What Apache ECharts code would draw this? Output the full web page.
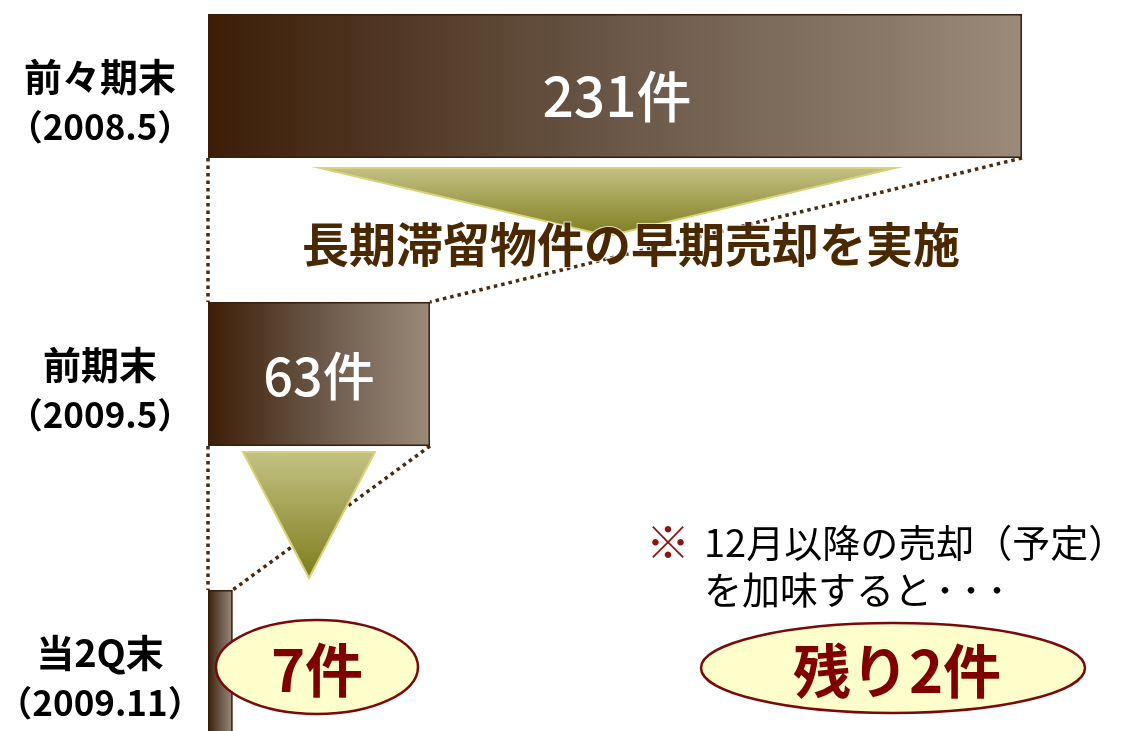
<!DOCTYPE html>
<html><head><meta charset="utf-8">
<script src="https://cdn.jsdelivr.net/npm/echarts@6/dist/echarts.min.js"></script>
<style>html,body{margin:0;padding:0;background:#fff}#c{width:1125px;height:731px}</style>
</head><body><div id="c"></div>
<script>
// ---- data ----
const periodNames = ['前々期末', '前期末', '当2Q末'];
const periodDates = ['（2008.5）', '（2009.5）', '（2009.11）'];
const counts = [231, 63, 7];
const barLabels = ['231件', '63件', ''];
const headline = '長期滞留物件の早期売却を実施';
const noteMark = '※';
const noteLine1 = '12月以降の売却（予定）';
const noteLine2 = 'を加味すると';
const noteDots = '・・・';
const currentLabel = '7件';
const remainLabel = '残り2件';

const FONT = '"Noto Sans CJK JP", "Noto Sans", sans-serif';
const chart = echarts.init(document.getElementById('c'), null, {renderer: 'canvas'});

const barGrad = new echarts.graphic.LinearGradient(0, 0, 1, 0, [
  {offset: 0, color: '#3c1e07'},
  {offset: 0.5, color: '#6a5747'},
  {offset: 1, color: '#9a8a7a'}
]);

chart.setOption({
  backgroundColor: '#ffffff',
  animation: false,
  grid: {left: 208, right: 103, top: -58, bottom: -75, containLabel: false, outerBoundsMode: 'none'},
  xAxis: {type: 'value', min: 0, max: 231, show: false},
  yAxis: {
    type: 'category', inverse: true, data: periodNames,
    axisLine: {show: false}, axisTick: {show: false}, splitLine: {show: false},
    axisLabel: {
      align: 'center', margin: 108, padding: [32, 0, 0, 0],
      formatter: (v, i) => '{a|' + v + '}\n{b|' + periodDates[i] + '}',
      rich: {
        a: {fontSize: 38, lineHeight: 50, fontWeight: 'bold', color: '#000', fontFamily: FONT},
        b: {fontSize: 35, lineHeight: 50, fontWeight: 'bold', color: '#000', fontFamily: FONT}
      }
    }
  },
  series: [{
    type: 'bar', barWidth: 144,
    data: counts.map((v, i) => ({
      value: v,
      label: {
        show: !!barLabels[i], position: 'inside', formatter: barLabels[i],
        color: '#ffffff', fontSize: i === 0 ? 55 : 52, fontWeight: 500, fontFamily: FONT,
        offset: i === 0 ? [2, 10] : [0, 2]
      }
    })),
    itemStyle: {color: barGrad, borderColor: '#3a1e0a', borderWidth: 1.5}
  }]
});

// ---- annotations derived from the axes ----
const half = 72;
const yc = i => chart.convertToPixel({yAxisIndex: 0}, periodNames[i]);
const xv = v => chart.convertToPixel({xAxisIndex: 0}, v);
const dotted = {stroke: '#4a2a10', lineWidth: 3.5, lineDash: [3.5, 4]};
function seg(x1, y1, x2, y2) {
  return {type: 'line', z: 1, shape: {x1, y1, x2, y2}, style: dotted, silent: true};
}
const g = [];
g.push(seg(xv(0), yc(0) + half, xv(0), yc(1) - half));
g.push(seg(xv(counts[0]), yc(0) + half, xv(counts[1]), yc(1) - half));
g.push(seg(xv(0), yc(1) + half, xv(0), yc(2) - half));
g.push(seg(xv(counts[1]), yc(1) + half, xv(counts[2]), yc(2) - half));

const triGrad = () => new echarts.graphic.LinearGradient(0, 0, 0, 1, [
  {offset: 0, color: '#c4c284'},
  {offset: 1, color: '#7e7c1c'}
]);
g.push({type: 'polygon', z: 2, shape: {points: [[320, 168], [895, 168], [608, 236]]},
  style: {fill: triGrad(), stroke: '#d8d27a', lineWidth: 2}});
g.push({type: 'polygon', z: 2, shape: {points: [[243, 452], [375, 452], [309, 578]]},
  style: {fill: triGrad(), stroke: '#d8d27a', lineWidth: 2}});

g.push({type: 'text', z: 3, style: {text: headline, x: 631, y: 244, font: 'bold 47px ' + FONT,
  fill: '#4a2800', align: 'center', verticalAlign: 'middle',
  stroke: 'rgba(255,255,255,0.7)', lineWidth: 2}});

g.push({type: 'text', z: 3, style: {text: noteMark, x: 668, y: 542, font: 'bold 44px ' + FONT,
  fill: '#8b1414', align: 'center', verticalAlign: 'middle'}});
g.push({type: 'text', z: 3, style: {text: noteLine1, x: 704, y: 543, font: '38px ' + FONT,
  fill: '#000', align: 'left', verticalAlign: 'middle'}});
g.push({type: 'text', z: 3, style: {
  text: '{a|' + noteLine2 + '}{d|' + noteDots + '}', x: 704, y: 590,
  align: 'left', verticalAlign: 'middle',
  rich: {
    a: {fontSize: 38, fontFamily: FONT, fill: '#000', color: '#000'},
    d: {fontSize: 26, fontFamily: FONT, fill: '#000', color: '#000', fontWeight: 'bold'}
  }}});

g.push({type: 'ellipse', z: 4, shape: {cx: 317, cy: 667, rx: 101, ry: 47},
  style: {fill: '#ffffcc', stroke: '#7a0a0a', lineWidth: 2.5}});
g.push({type: 'text', z: 5, style: {text: currentLabel, x: 317, y: 670, font: 'bold 58px ' + FONT,
  fill: '#800000', align: 'center', verticalAlign: 'middle'}});
g.push({type: 'ellipse', z: 4, shape: {cx: 893, cy: 668, rx: 192, ry: 45},
  style: {fill: '#ffffcc', stroke: '#7a0a0a', lineWidth: 2.5}});
g.push({type: 'text', z: 5, style: {text: remainLabel, x: 897, y: 671, font: 'bold 58px ' + FONT,
  fill: '#800000', align: 'center', verticalAlign: 'middle'}});

chart.setOption({graphic: {elements: g}});
</script></body></html>
